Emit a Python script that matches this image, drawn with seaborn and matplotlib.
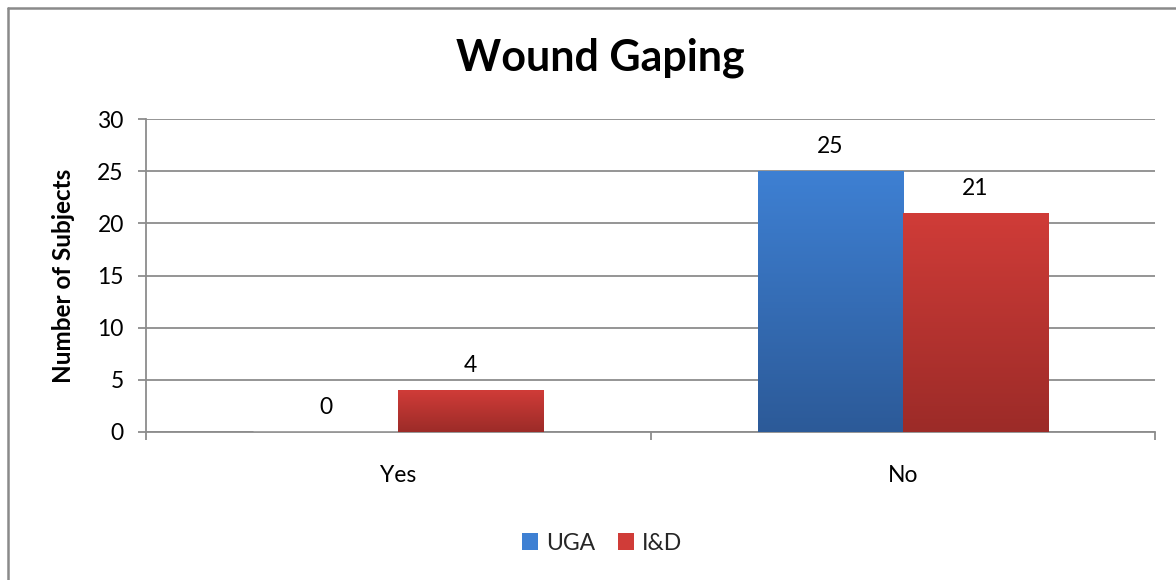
import numpy as np
import pandas as pd
import matplotlib
matplotlib.use("Agg")
import matplotlib.pyplot as plt
from matplotlib.lines import Line2D
from matplotlib.patches import Patch
from matplotlib.colors import LinearSegmentedColormap
import seaborn as sns

# Chart data
categories = ["Yes", "No"]
series_names = ["UGA", "I&D"]
uga_values = [0, 25]
ind_values = [4, 21]
y_ticks = [0, 5, 10, 15, 20, 25, 30]

# Gradient colours per series (top, bottom)
series_colors = {"UGA": ("#3e80d3", "#2c5a98"), "I&D": ("#d03c38", "#9c2b28")}

df = pd.DataFrame({
    "Category": categories * 2,
    "Series": [series_names[0]] * len(categories) + [series_names[1]] * len(categories),
    "Count": uga_values + ind_values,
})

sns.set_theme(style="white")
plt.rcParams["font.family"] = ["Lato", "DejaVu Sans"]

FS = 16.5

fig = plt.figure(figsize=(11.76, 5.8), dpi=100)
ax = fig.add_axes([146 / 1176, 1 - 432 / 580, (1155 - 146) / 1176, (432 - 119) / 580])

palette = {k: v[0] for k, v in series_colors.items()}
sns.barplot(data=df, x="Category", y="Count", hue="Series", order=categories,
            hue_order=series_names, palette=palette, width=0.575, dodge=True,
            saturation=1, ax=ax, legend=True, zorder=3)

ax.set_xlim(-0.5, 1.5)
ax.set_ylim(0, 30)
ax.set_yticks(y_ticks)

# Vertical gradient fill for each bar, clipped to the bar rectangle
for container, name in zip(ax.containers, series_names):
    top, bottom = series_colors[name]
    cmap = LinearSegmentedColormap.from_list(name, [bottom, top])
    for bar in container:
        x0, y0 = bar.get_x(), bar.get_y()
        w, h = bar.get_width(), bar.get_height()
        if h <= 0:
            continue
        bar.set_facecolor("none")
        bar.set_edgecolor("none")
        grad = np.linspace(0, 1, 256).reshape(-1, 1)
        im = ax.imshow(grad, extent=[x0, x0 + w, y0, y0 + h], origin="lower",
                       cmap=cmap, aspect="auto", zorder=3)
        im.set_clip_path(bar)
    ax.bar_label(container, labels=[f"{v:g}" for v in container.datavalues],
                 padding=10, fontsize=FS, color="#000000")

ax.set_xlim(-0.5, 1.5)
ax.set_ylim(0, 30)

# Axes styling
grid_color = "#8c8c8c"
ax.yaxis.grid(True, color=grid_color, linewidth=1.3, zorder=0)
ax.set_axisbelow(True)
for side in ["top", "right"]:
    ax.spines[side].set_visible(False)
for side in ["left", "bottom"]:
    ax.spines[side].set_color(grid_color)
    ax.spines[side].set_linewidth(1.3)

ax.tick_params(axis="y", which="major", direction="out", length=6, width=1.3,
               color=grid_color, labelsize=FS, pad=10, labelcolor="#000000", left=True)
ax.tick_params(axis="x", which="major", length=0, labelsize=FS, pad=24, labelcolor="#000000")
ax.set_xticks([-0.5, 0.5, 1.5], minor=True)
ax.tick_params(axis="x", which="minor", direction="out", length=6, width=1.3,
               color=grid_color, bottom=True)

ax.set_xlabel("")
ax.set_ylabel("Number of Subjects", fontsize=17.5, fontweight="bold", labelpad=16, color="#000000")

fig.suptitle("Wound Gaping", x=0.5 + 12 / 1176, y=1 - 58 / 580, va="center",
             fontsize=31, fontweight="bold", color="#000000")

# Legend at the bottom
handles = [Patch(facecolor=series_colors[n][0], edgecolor="none") for n in series_names]
ax.legend(handles, series_names, loc="center", bbox_to_anchor=(602 / 1176, 1 - 543 / 580),
          bbox_transform=fig.transFigure, ncol=2, frameon=False, fontsize=FS,
          handlelength=0.7, handleheight=0.7, handletextpad=0.35, columnspacing=1.0)

# Outer chart frame
frame_color = "#8a8a8a"
fig.add_artist(Line2D([8 / 1176, 8 / 1176], [0, 1 - 8 / 580], transform=fig.transFigure,
                      color=frame_color, linewidth=1.8))
fig.add_artist(Line2D([8 / 1176, 1], [1 - 8 / 580, 1 - 8 / 580], transform=fig.transFigure,
                      color=frame_color, linewidth=1.8))

fig.savefig("out.png", dpi=100, facecolor="white")
